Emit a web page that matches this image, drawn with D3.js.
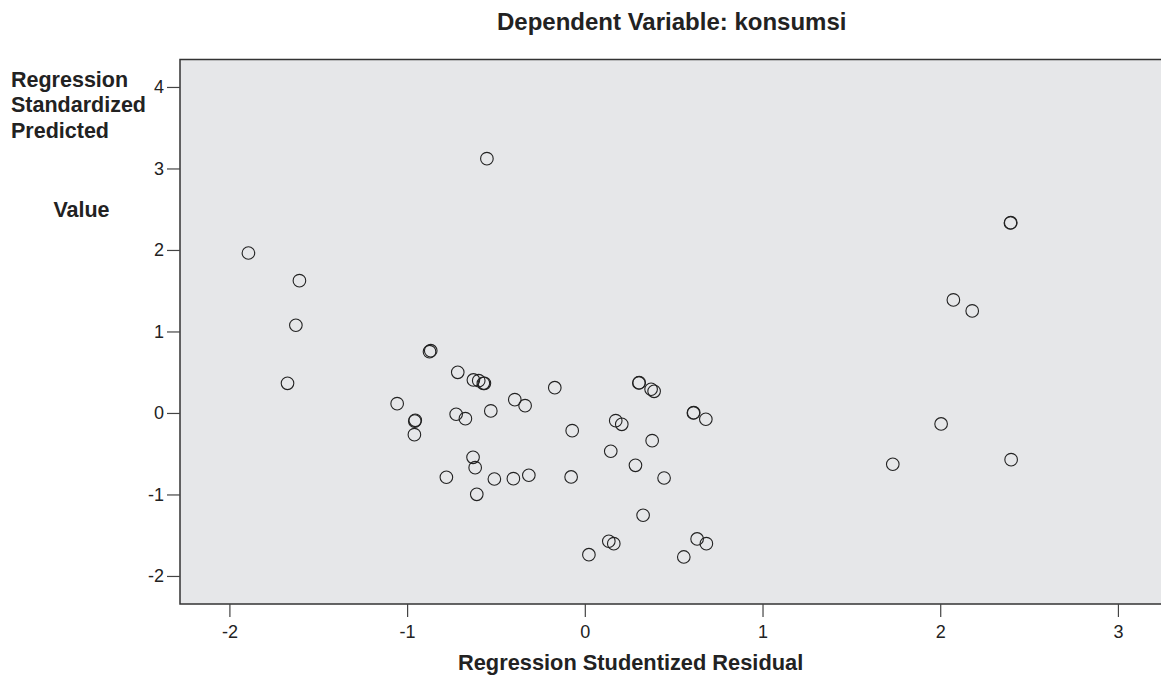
<!DOCTYPE html>
<html><head><meta charset="utf-8">
<script src="https://cdn.jsdelivr.net/npm/d3@7"></script>
<style>
html,body{margin:0;padding:0;background:#fff;}
text{font-family:"Liberation Sans",Arial,sans-serif;}
</style></head>
<body>
<svg id="c" width="1161" height="675"></svg>
<script>
const residuals = [-0.551,-1.893,-1.606,-1.626,-1.673,-0.874,-0.867,-0.715,-0.627,-0.597,-0.571,-0.565,
 -0.169,-1.056,-0.957,-0.954,-0.959,-0.724,-0.672,-0.529,-0.394,-0.336,-0.071,
 0.304,0.306,0.373,0.390,0.611,0.613,0.681,0.174,0.208,0.379,0.146,0.285,0.446,
 -0.629,-0.617,-0.779,-0.509,-0.402,-0.315,-0.077,-0.608,0.328,0.135,0.163,0.023,0.632,0.684,0.557,
 2.395,2.397,2.074,2.180,2.005,1.733,2.399];
const predicted = [3.12,1.963,1.623,1.076,0.364,0.752,0.764,0.499,0.405,0.396,0.364,0.364,
 0.31,0.114,-0.10,-0.09,-0.266,-0.016,-0.07,0.025,0.163,0.09,-0.217,
 0.368,0.372,0.291,0.266,0.0,0.004,-0.077,-0.094,-0.139,-0.34,-0.47,-0.642,-0.798,
 -0.544,-0.671,-0.789,-0.81,-0.806,-0.764,-0.785,-0.998,-1.255,-1.574,-1.604,-1.739,-1.546,-1.604,-1.767,
 2.331,2.335,1.387,1.252,-0.135,-0.629,-0.573];
const xTicks = [-2,-1,0,1,2,3];
const yTicks = [-2,-1,0,1,2,3,4];
const titleText = "Dependent Variable: konsumsi";
const xTitle = "Regression Studentized Residual";
const yTitleLines = ["Regression","Standardized","Predicted","Value"];

const svg = d3.select("#c");
const L=180, R=1162, T=59.5, B=604;
const x = d3.scaleLinear().domain([-2.278,3.248]).range([L,R]);
const y = d3.scaleLinear().domain([-2.344,4.337]).range([B,T]);

svg.append("rect").attr("x",L).attr("y",T).attr("width",R-L).attr("height",B-T)
  .attr("fill","#e6e7e9").attr("stroke","#333").attr("stroke-width",1.5);

const fmt = d => String(d);
const xa = svg.append("g").attr("transform",`translate(0,${B})`)
  .call(d3.axisBottom(x).tickValues(xTicks).tickFormat(fmt).tickSize(13).tickPadding(8).tickSizeOuter(0));
const ya = svg.append("g").attr("transform",`translate(${L},0)`)
  .call(d3.axisLeft(y).tickValues(yTicks).tickFormat(fmt).tickSize(13).tickPadding(3).tickSizeOuter(0));
[xa,ya].forEach(a=>{
  a.select(".domain").remove();
  a.selectAll(".tick line").attr("stroke","#444").attr("stroke-width",1.2);
  a.selectAll(".tick text").attr("fill","#222").style("font-size","18px")
   .style("font-family","'Liberation Sans',Arial,sans-serif");
});

svg.append("g").selectAll("circle").data(residuals.map((r,i)=>[r,predicted[i]])).join("circle")
  .attr("cx",d=>x(d[0])).attr("cy",d=>y(d[1])).attr("r",6.3)
  .attr("fill","none").attr("stroke","#222").attr("stroke-width",1.1);

svg.append("text").attr("x",497).attr("y",30).attr("text-anchor","start")
  .style("font-size","24px").style("font-weight","bold").attr("fill","#222").text(titleText);
svg.append("text").attr("x",458).attr("y",670).attr("text-anchor","start")
  .style("font-size","21.8px").style("font-weight","bold").attr("fill","#222").text(xTitle);
const yl = [[11,86.7,"start"],[11,112.3,"start"],[11,138.3,"start"],[81.5,216.5,"middle"]];
yTitleLines.forEach((t,i)=>{
  svg.append("text").attr("x",yl[i][0]).attr("y",yl[i][1]).attr("text-anchor",yl[i][2])
   .style("font-size","21.5px").style("font-weight","bold").attr("fill","#222").text(t);
});
</script>
</body></html>
